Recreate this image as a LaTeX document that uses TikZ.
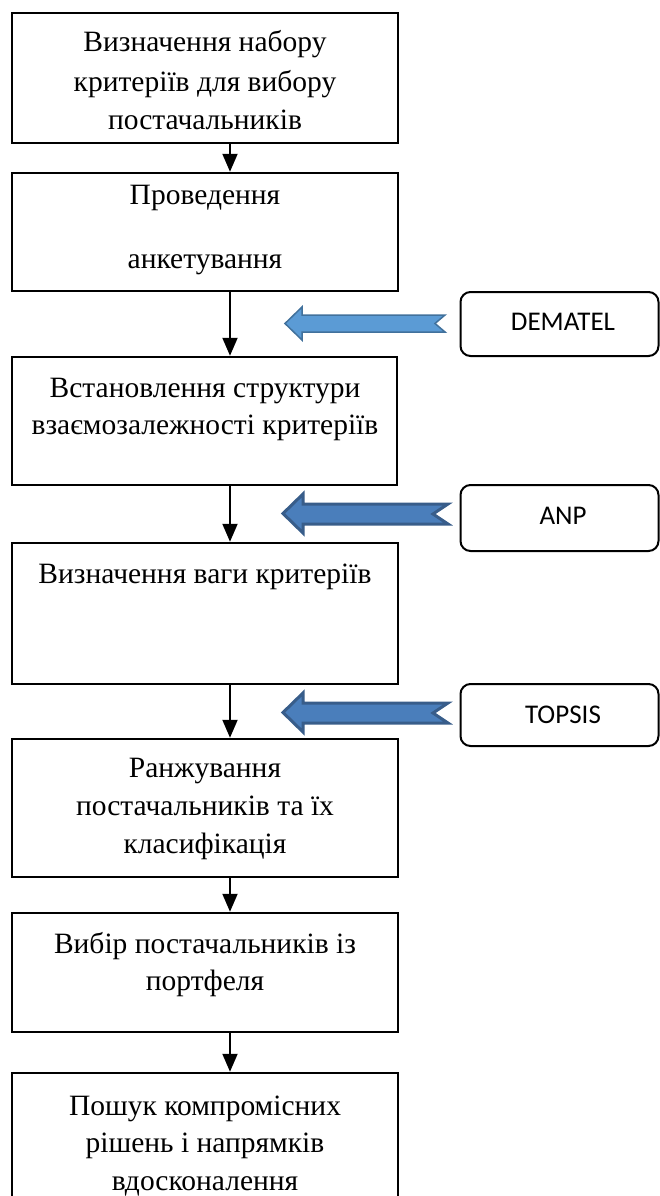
\documentclass[tikz,border=0pt]{standalone}
\usepackage{fontspec}
\setmainfont{Liberation Serif}
\newfontfamily\methodfont{Carlito}
\usetikzlibrary{arrows.meta}
\begin{document}
\begin{tikzpicture}[x=1pt,y=-1pt,
  stepbox/.style={draw, line width=2.5pt, rectangle, inner sep=0pt},
  methodbox/.style={draw, line width=2pt, rounded corners=10pt, inner sep=0pt},
  txt/.style={anchor=base, inner sep=0pt, font=\fontsize{29.5}{34}\selectfont},
  mtxt/.style={anchor=base, inner sep=0pt, font=\methodfont\fontsize{27}{30}\selectfont},
  flow/.style={line width=2pt, -{Triangle[length=18pt,width=15pt]}},
  lightarrow/.style={fill=lblue, draw=lblueline, line width=1.5pt, line join=miter},
  darkarrow/.style={fill=dblue, draw=dblueline, line width=3pt, line join=miter}]
\definecolor{lblue}{HTML}{5B9BD5}
\definecolor{lblueline}{HTML}{41719C}
\definecolor{dblue}{HTML}{4A7EBB}
\definecolor{dblueline}{HTML}{385D8A}
\useasboundingbox (0,0) rectangle (660,1196);
\fill[white] (0,0) rectangle (660,1196);

% main step boxes
\node[stepbox, minimum width=386pt, minimum height=130pt] (b1) at (205,78) {};
\node[stepbox, minimum width=386pt, minimum height=118pt] (b2) at (205,232) {};
\node[stepbox, minimum width=385pt, minimum height=128pt] (b3) at (204.5,421) {};
\node[stepbox, minimum width=386pt, minimum height=141pt] (b4) at (205,613.5) {};
\node[stepbox, minimum width=386pt, minimum height=138pt] (b5) at (205,808) {};
\node[stepbox, minimum width=386pt, minimum height=119pt] (b6) at (205,972.5) {};
\node[stepbox, minimum width=386pt, minimum height=157pt] (b7) at (205,1151.5) {};

% texts
\node[txt] (t1a) at (205,52) {Визначення набору};
\node[txt] (t1b) at (205,92) {критеріїв для вибору};
\node[txt] (t1c) at (205,130) {постачальників};
\node[txt] (t2a) at (205,204) {Проведення};
\node[txt] (t2b) at (205,268) {анкетування};
\node[txt] (t3a) at (205,397) {Встановлення структури};
\node[txt] (t3b) at (205,434) {взаємозалежності критеріїв};
\node[txt] (t4a) at (205,583) {Визначення ваги критеріїв};
\node[txt] (t5a) at (205,777) {Ранжування};
\node[txt] (t5b) at (205,815) {постачальників та їх};
\node[txt] (t5c) at (205,853) {класифікація};
\node[txt] (t6a) at (205,953) {Вибір постачальників із};
\node[txt] (t6b) at (205,990) {портфеля};
\node[txt] (t7a) at (205,1115) {Пошук компромісних};
\node[txt] (t7b) at (205,1152) {рішень і напрямків};
\node[txt] (t7c) at (205,1190) {вдосконалення};

% flow arrows
\coordinate (ax) at (230,0);
\draw[flow] (b1.south -| ax) -- (b2.north -| ax);
\draw[flow] (b2.south -| ax) -- (b3.north -| ax);
\draw[flow] (b3.south -| ax) -- (b4.north -| ax);
\draw[flow] (b4.south -| ax) -- (b5.north -| ax);
\draw[flow] (b5.south -| ax) -- (b6.north -| ax);
\draw[flow] (b6.south -| ax) -- (b7.north -| ax);

% method boxes
\node[methodbox, minimum width=198pt, minimum height=64pt] (m1) at (559.5,324) {};
\node[methodbox, minimum width=198pt, minimum height=66pt] (m2) at (559.5,518) {};
\node[methodbox, minimum width=198pt, minimum height=62pt] (m3) at (559.5,715) {};
\node[mtxt] (mt1) at (563,330) {DEMATEL};
\node[mtxt] (mt2) at (563,524) {ANP};
\node[mtxt] (mt3) at (563,723) {TOPSIS};

% block arrows
\draw[lightarrow] (285,323.5) -- (302,307) -- (302,315) -- (445,315) -- (435,323.5)
  -- (445,332) -- (302,332) -- (302,340) -- cycle;
\draw[darkarrow] (283,513.5) -- (303,494) -- (303,504) -- (448,504) -- (433,514)
  -- (448,524) -- (303,524) -- (303,533) -- cycle;
\draw[darkarrow] (283,712.5) -- (303,693) -- (303,703) -- (448,703) -- (433,713)
  -- (448,723) -- (303,723) -- (303,732) -- cycle;
\end{tikzpicture}
\end{document}
